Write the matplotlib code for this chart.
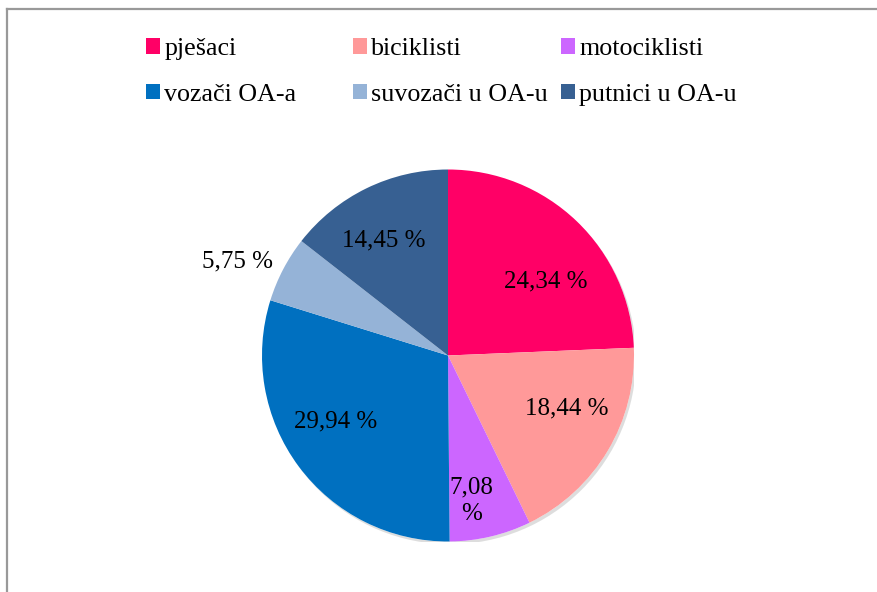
import numpy as np
import matplotlib
matplotlib.use('Agg')
from matplotlib import pyplot as plt
import matplotlib.patches as mpatches
import matplotlib.patheffects as pe
from matplotlib.lines import Line2D

# data
categories = ['pješaci', 'biciklisti', 'motociklisti',
              'vozači OA-a', 'suvozači u OA-u', 'putnici u OA-u']
shares = [24.34, 18.44, 7.08, 29.94, 5.75, 14.45]
colors = ['#FF0066', '#FF9999', '#CC66FF', '#0070C0', '#95B3D7', '#376092']

plt.rcParams['font.family'] = ['Liberation Serif', 'DejaVu Serif']

fig = plt.figure(figsize=(8.77, 5.92), dpi=100)

# pie centred at (448, 355) px, radius ~186 px
W, H = 877, 592
cx, cy, r = 448, 355.5, 186
ax = fig.add_axes([(cx - r) / W, (H - cy - r) / H, 2 * r / W, 2 * r / H])

# soft shadow under the pie
shadow = mpatches.Circle((0, 0), 1.0, facecolor='white', edgecolor='none', zorder=0,
                         path_effects=[pe.SimplePatchShadow(offset=(1.5, -2), shadow_rgbFace='#a0a0a0', alpha=0.35),
                                       pe.Normal()])
ax.add_patch(shadow)

wedges, _ = ax.pie(shares, colors=colors, startangle=90, counterclock=False,
                   radius=1.0, wedgeprops=dict(linewidth=0))
ax.set_xlim(-1, 1)
ax.set_ylim(-1, 1)
ax.set_aspect('equal')
ax.axis('off')

# label placement (radius, angle shift in degrees) similar to Excel best fit
label_place = [(0.66, -9.2), (0.70, 6.8), (0.79, -4.2), (0.70, -6.3), (1.24, 3.6), (0.71, 3.0)]
for i, (w, v) in enumerate(zip(wedges, shares)):
    txt = f'{v:.2f}'.replace('.', ',')
    txt = txt + ('\n%' if categories[i] == 'motociklisti' else ' %')
    rad, shift = label_place[i]
    ang = np.deg2rad((w.theta1 + w.theta2) / 2 + shift)
    ax.text(rad * np.cos(ang), rad * np.sin(ang), txt, ha='center', va='center',
            fontsize=18, linespacing=1.25, color='black')

# legend: three columns, two rows
handles = [mpatches.Patch(facecolor=c, edgecolor='none') for c in colors]
col_x = [146 / W, 353 / W, 561 / W]
y_mid = 1 - 72 / H
for k in range(3):
    idx = [k, k + 3]
    leg = fig.legend([handles[j] for j in idx], [categories[j] for j in idx],
                     loc='center left', bbox_to_anchor=(col_x[k], y_mid),
                     frameon=False, fontsize=18.7, handlelength=0.55, handleheight=0.55,
                     handletextpad=0.15, labelspacing=0.9, borderpad=0, borderaxespad=0)

# chart frame (top and left edge visible)
fig.add_artist(Line2D([6.5 / W, 1], [1 - 8.5 / H, 1 - 8.5 / H], color='#999999', lw=1.6))
fig.add_artist(Line2D([6.5 / W, 6.5 / W], [0, 1 - 8.5 / H], color='#999999', lw=1.6))

fig.savefig('out.png', dpi=100, facecolor='white')
